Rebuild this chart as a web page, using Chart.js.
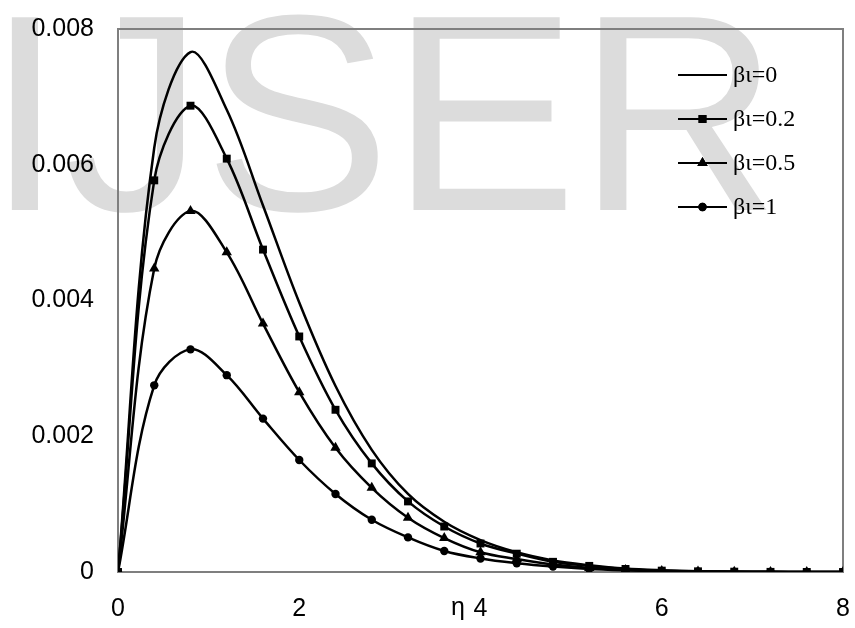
<!DOCTYPE html>
<html>
<head>
<meta charset="utf-8">
<script src="https://cdn.jsdelivr.net/npm/chart.js@4/dist/chart.umd.min.js"></script>
<style>
  html, body { margin: 0; padding: 0; background: #ffffff; }
  #c { display: block; }
</style>
</head>
<body>
<canvas id="c" width="855" height="628"></canvas>
<script>
// ---- data ----
const eta = [0, 0.4, 0.8, 1.2, 1.6, 2.0, 2.4, 2.8, 3.2, 3.6, 4.0, 4.4, 4.8, 5.2, 5.6, 6.0, 6.4, 6.8, 7.2, 7.6, 8.0];
const seriesLabels = ['βι=0', 'βι=0.2', 'βι=0.5', 'βι=1'];
const beta0   = [0, 0.00625, 0.00766, 0.00681, 0.00540, 0.00397, 0.00274, 0.00180, 0.00115, 0.00074, 0.00047, 0.00029, 0.00017, 0.00010, 0.00005, 0.000025, 0.00001, 0.000005, 0.000002, 0.000001, 0];
const beta02  = [0, 0.00577, 0.00687, 0.00609, 0.00475, 0.00347, 0.00239, 0.00160, 0.00104, 0.00067, 0.00042, 0.00027, 0.00015, 0.00009, 0.000045, 0.00002, 0.00001, 0.000005, 0.000002, 0.000001, 0];
const beta05  = [0, 0.00447, 0.00532, 0.00471, 0.00366, 0.00265, 0.00183, 0.00124, 0.00080, 0.00050, 0.00029, 0.00019, 0.00011, 0.00006, 0.00003, 0.000015, 0.000007, 0.000003, 0.000001, 0, 0];
const beta1   = [0, 0.00275, 0.00328, 0.00290, 0.00226, 0.00165, 0.00115, 0.00077, 0.00051, 0.00031, 0.00020, 0.00013, 0.00008, 0.000045, 0.000025, 0.000012, 0.000005, 0.000002, 0.000001, 0, 0];
const xTicks = [0, 2, 4, 6, 8];
const yTicks = [0, 0.002, 0.004, 0.006, 0.008];

const toPts = arr => eta.map((x, i) => ({ x: x, y: arr[i] }));

const SANS = '"Liberation Sans", Arial, sans-serif';
const SERIF = '"Liberation Serif", "Times New Roman", serif';

const mkSet = (label, arr, style, radius) => ({
  label: label,
  data: toPts(arr),
  borderColor: '#000',
  backgroundColor: '#000',
  borderWidth: 2.5,
  pointStyle: style,
  pointRadius: radius,
  pointBorderWidth: 0,
  pointHoverRadius: radius,
  tension: 0.35,
  fill: false
});

const watermark = {
  id: 'watermark',
  beforeDraw(chart) {
    const ctx = chart.ctx;
    ctx.save();
    ctx.fillStyle = '#ffffff';
    ctx.fillRect(0, 0, chart.width, chart.height);
    ctx.font = '280px ' + SANS;
    ctx.fillStyle = '#dcdcdc';
    ctx.textBaseline = 'alphabetic';
    ctx.textAlign = 'left';
    ctx.fillText('IJSER', -14, 210);
    ctx.restore();
  }
};

const frame = {
  id: 'frame',
  beforeDatasetsDraw(chart) {
    const a = chart.chartArea, ctx = chart.ctx;
    ctx.save();
    ctx.strokeStyle = '#7f7f7f';
    ctx.lineWidth = 2;
    ctx.strokeRect(a.left, a.top, a.right - a.left, a.bottom - a.top);
    ctx.restore();
  },
  afterDraw(chart) {
    const ctx = chart.ctx;
    ctx.save();
    // axis title eta
    ctx.font = '25px ' + SANS;
    ctx.fillStyle = '#000';
    ctx.textAlign = 'center';
    ctx.textBaseline = 'middle';
    ctx.fillText('η', 458, 608);
    // legend
    const x0 = 678, x1 = 727, y0 = 75, dy = 44;
    chart.data.datasets.forEach((ds, i) => {
      const y = y0 + i * dy;
      ctx.strokeStyle = '#000';
      ctx.lineWidth = 2;
      ctx.beginPath();
      ctx.moveTo(x0, y);
      ctx.lineTo(x1, y);
      ctx.stroke();
      if (ds.pointRadius > 0) {
        ctx.fillStyle = '#000';
        Chart.helpers.drawPoint(ctx, { pointStyle: ds.pointStyle, radius: ds.pointRadius, borderWidth: 0, rotation: 0 }, (x0 + x1) / 2, y);
        ctx.fill();
      }
      ctx.fillStyle = '#000';
      ctx.font = '24px ' + SERIF;
      ctx.textAlign = 'left';
      ctx.textBaseline = 'middle';
      ctx.fillText(ds.label, 733, y + 1);
    });
    ctx.restore();
  }
};

new Chart(document.getElementById('c'), {
  type: 'line',
  data: {
    datasets: [
      mkSet(seriesLabels[0], beta0, 'circle', 0),
      mkSet(seriesLabels[1], beta02, 'rect', 5.6),
      mkSet(seriesLabels[2], beta05, 'triangle', 6),
      mkSet(seriesLabels[3], beta1, 'circle', 4.2)
    ]
  },
  options: {
    responsive: false,
    animation: false,
    devicePixelRatio: 1,
    layout: { padding: { top: 29, right: 12, left: 0, bottom: 0 } },
    plugins: { legend: { display: false }, tooltip: { enabled: false } },
    scales: {
      x: {
        type: 'linear', min: 0, max: 8,
        afterFit(s) { s.height = 56; s.paddingLeft = 0; s.paddingRight = 0; },
        afterBuildTicks(s) { s.ticks = xTicks.map(v => ({ value: v })); },
        ticks: { color: '#000', font: { family: SANS, size: 25 }, padding: 22, maxRotation: 0 },
        grid: { display: false, drawTicks: false },
        border: { display: false }
      },
      y: {
        min: 0, max: 0.008,
        afterFit(s) { s.width = 118; s.paddingTop = 0; s.paddingBottom = 0; },
        afterBuildTicks(s) { s.ticks = yTicks.map(v => ({ value: v })); },
        ticks: {
          color: '#000', font: { family: SANS, size: 25 }, padding: 24,
          callback: v => (v === 0 ? '0' : v.toFixed(3))
        },
        grid: { display: false, drawTicks: false },
        border: { display: false }
      }
    }
  },
  plugins: [watermark, frame]
});
</script>
</body>
</html>
